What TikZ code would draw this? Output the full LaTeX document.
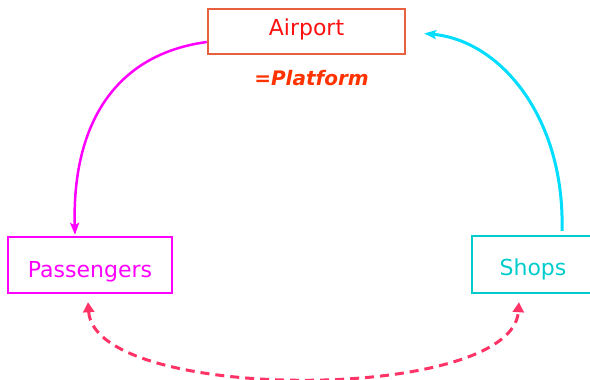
\documentclass[tikz,border=0pt]{standalone}
\usepackage{fontspec}
\setmainfont{DejaVu Sans}
\usetikzlibrary{arrows.meta}
\definecolor{airbord}{RGB}{232,96,64}
\definecolor{airtext}{RGB}{255,16,16}
\definecolor{platcol}{RGB}{255,51,0}
\definecolor{pascol}{RGB}{255,0,255}
\definecolor{shopcol}{RGB}{0,204,204}
\definecolor{cyanarr}{RGB}{0,221,255}
\definecolor{dashcol}{RGB}{255,51,102}
\tikzset{
  box/.style={draw, line width=2.4pt, inner sep=0pt, font=\fontsize{22}{26}\selectfont},
  tipA/.style={-{Stealth[length=12pt,width=9pt,inset=2.5pt]}},
}
\begin{document}
\begin{tikzpicture}[x=1pt,y=-1pt]
\useasboundingbox (0,0) rectangle (590,380);
\node[box, draw=airbord, text=airtext, minimum width=197pt, minimum height=45pt,
      text height=14pt, text depth=6pt] (air) at (306.5,31.5) {Airport};
\node[text=platcol, font=\fontsize{20}{24}\selectfont\bfseries\itshape, anchor=base, inner sep=0pt]
      (plat) at (311.5,85) {=Platform};
\node[box, draw=pascol, text=pascol, minimum width=164pt, minimum height=56pt,
      text height=24pt, text depth=0pt] (pas) at (90,265) {Passengers};
\node[box, draw=shopcol, text=shopcol, minimum width=122pt, minimum height=57pt,
      text height=21pt, text depth=0pt] (shop) at (533,264.5) {Shops};
\coordinate (airR) at ([xshift=18pt,yshift=-2pt]air.east);
% magenta arrow
\draw[pascol, line width=2.5pt, tipA] (air.186) .. controls +(-96,13) and +(-3,-105) .. ([xshift=-15pt,yshift=1pt]pas.north);
% cyan arrow
\draw[cyanarr, line width=3pt, tipA] ([xshift=29pt,yshift=4pt]shop.north) .. controls +(3,-112) and +(77,7) .. (airR);
% dashed double arrow
\draw[dashcol, line width=3pt, dash pattern=on 9pt off 6pt,
      {Triangle[length=10pt,width=11pt]}-{Triangle[length=10pt,width=11pt]}]
  ([xshift=-2pt,yshift=-8pt]pas.south) .. controls +(7,101) and +(-7,101) .. ([xshift=-14pt,yshift=-8pt]shop.south);
\end{tikzpicture}
\end{document}
